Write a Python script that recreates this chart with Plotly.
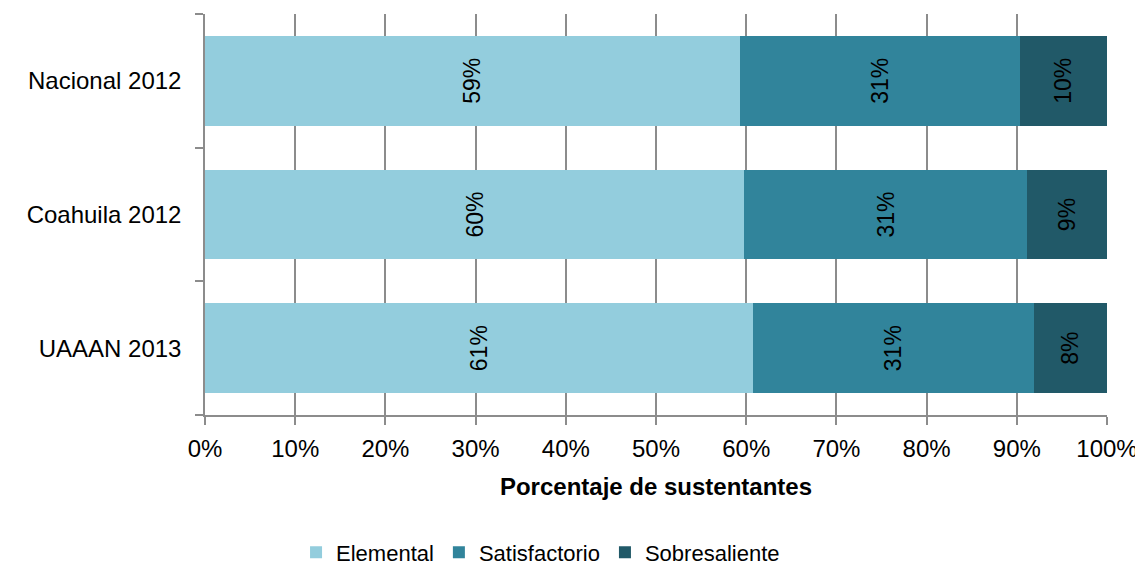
import plotly.graph_objects as go

categories = ["UAAAN 2013", "Coahuila 2012", "Nacional 2012"]
elemental = [60.7, 59.8, 59.3]
satisfactorio = [31.2, 31.3, 31.0]
sobresaliente = [8.1, 8.9, 9.7]

series = [
    ("Elemental", elemental, "#93CDDD"),
    ("Satisfactorio", satisfactorio, "#31849B"),
    ("Sobresaliente", sobresaliente, "#215968"),
]

FONT = "Liberation Sans, Arial, sans-serif"
GRID = "#8c8c8c"

fig = go.Figure()
for name, vals, color in series:
    fig.add_trace(go.Bar(
        y=categories, x=vals, name=name, orientation="h",
        marker=dict(color=color, line=dict(width=0)),
        texttemplate="%{x:.0f}%", textposition="inside",
        insidetextanchor="middle", textangle=-90, constraintext="none",
        textfont=dict(family=FONT, size=23, color="black"),
        hoverinfo="skip",
    ))

# page body has an 8px margin, so the figure is sized to fit the window
fig.update_layout(
    barmode="stack", bargap=0.33,
    width=1135, height=561,
    margin=dict(l=197, r=36, t=6, b=154, autoexpand=False),
    paper_bgcolor="white", plot_bgcolor="white",
    font=dict(family=FONT, size=24, color="black"),
    legend=dict(orientation="h", x=0.372, xanchor="center", y=-0.343, yanchor="middle",
                font=dict(size=22), itemwidth=30, traceorder="normal"),
    xaxis=dict(range=[0, 100], dtick=10, ticksuffix="%", showgrid=True,
               gridcolor=GRID, gridwidth=1.5, showline=True, linecolor=GRID,
               linewidth=1.5, ticks="outside", ticklen=8, tickcolor=GRID,
               tickwidth=1.5, zeroline=False, ticklabelstandoff=3, automargin=False,
               title=dict(text="<b>Porcentaje de sustentantes</b>",
                          font=dict(size=24), standoff=18)),
    yaxis=dict(showgrid=False, showline=True, linecolor=GRID, linewidth=1.5,
               ticks="outside", tickson="boundaries", ticklen=8, automargin=False,
               tickcolor=GRID, tickwidth=1.5, ticklabelstandoff=17),
)

fig.write_html("out.html")
